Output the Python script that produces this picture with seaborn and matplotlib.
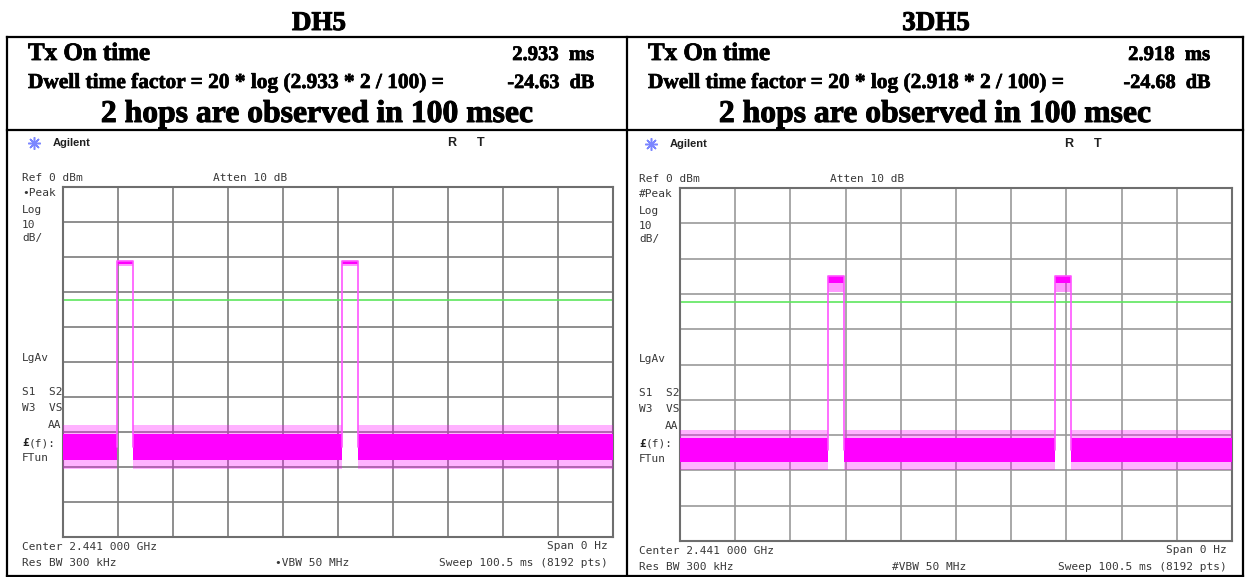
import numpy as np
import pandas as pd
import matplotlib
matplotlib.use("Agg")
import matplotlib.pyplot as plt
import matplotlib.patheffects as pe
import seaborn as sns

# ---------------- data ----------------
panel_titles = ["DH5", "3DH5"]
tx_on_time_ms = ["2.933", "2.918"]
dwell_factor_db = ["-24.63", "-24.68"]
hops_text = "2 hops are observed in 100 msec"

sweep_ms = 100.5
ref_level_dbm = 0
db_per_div = 10
n_div = 10

# DH5 trace (left)
dh5_pulse_start_ms = [9.92, 51.05]
dh5_pulse_end_ms = [12.85, 53.98]
dh5_top_core_dbm = [-21.0, -22.0]
dh5_top_spread_dbm = [-21.0, -22.5]
dh5_noise_core_dbm = [-70.5, -78.0]
dh5_noise_spread_dbm = [-68.0, -80.5]
dh5_threshold_dbm = -32.3

# 3DH5 trace (right)
tdh5_pulse_start_ms = [26.9, 68.3]
tdh5_pulse_end_ms = [29.82, 71.22]
tdh5_top_core_dbm = [-25.0, -27.0]
tdh5_top_spread_dbm = [-25.0, -29.5]
tdh5_noise_core_dbm = [-70.8, -77.5]
tdh5_noise_spread_dbm = [-68.5, -80.0]
tdh5_threshold_dbm = -32.2

detector_marks = ["\u2022", "#"]

# ---------------- figure ----------------
W, H, DPI = 1246, 577, 100
sns.set_theme(style="white")
plt.rcParams['font.family'] = ['DejaVu Sans']

fig = plt.figure(figsize=(W / DPI, H / DPI), dpi=DPI)
fig.patch.set_facecolor("white")
ov = fig.add_axes([0, 0, 1, 1])
ov.set_xlim(0, W)
ov.set_ylim(H, 0)
ov.axis("off")
renderer = fig.canvas.get_renderer()

SERIF = dict(family=["Liberation Serif", "DejaVu Serif"], weight="bold", color="black")
MONO = dict(family="DejaVu Sans Mono", fontsize=8, color="#383838")


def fit_text(x, y, s, width, ha="left", va="baseline", stroke=0.0, **kw):
    t = ov.text(x, y, s, fontsize=20, ha=ha, va=va, **kw)
    w = t.get_window_extent(renderer=renderer).width
    t.set_fontsize(20 * width / w)
    if stroke > 0:
        t.set_path_effects([pe.withStroke(linewidth=stroke, foreground="black")])
    return t


# table borders
tab_l, tab_m, tab_r = 7, 627, 1243
tab_t, tab_sep, tab_b = 37, 130, 576
for x in [tab_l, tab_m, tab_r]:
    ov.plot([x, x], [tab_t, tab_b], color="black", lw=1.6, solid_capstyle="projecting")
for y in [tab_t, tab_sep, tab_b]:
    ov.plot([tab_l, tab_r], [y, y], color="black", lw=1.6, solid_capstyle="projecting")

# headers
title_t = fit_text(319, 30, panel_titles[0], 54, ha="center", stroke=0.7, **SERIF)
title_fs = title_t.get_fontsize()
t2 = ov.text(936, 30, panel_titles[1], fontsize=title_fs, ha="center", va="baseline", **SERIF)
t2.set_path_effects([pe.withStroke(linewidth=0.7, foreground="black")])

col_left = [tab_l, tab_m]
col_right = [tab_m, tab_r]
col_center = [317, 935]
for c in range(2):
    a = col_left[c] + 21
    b = col_right[c] - 33
    fit_text(a, 60, "Tx On time", 122, stroke=0.6, **SERIF)
    fit_text(b, 60, f"{tx_on_time_ms[c]}  ms", 82, ha="right", stroke=0.55, **SERIF)
    fit_text(a, 88, f"Dwell time factor = 20 * log ({tx_on_time_ms[c]} * 2 / 100) =", 416,
             stroke=0.5, **SERIF)
    fit_text(b, 88, f"{dwell_factor_db[c]}  dB", 87, ha="right", stroke=0.5, **SERIF)
    fit_text(col_center[c], 122, hops_text, 432, ha="center", stroke=0.7, **SERIF)

# ---------------- analyzer panels ----------------
panels = [
    dict(box=(63, 187, 613, 537), starts=dh5_pulse_start_ms, ends=dh5_pulse_end_ms,
         top_core=dh5_top_core_dbm, top_spread=dh5_top_spread_dbm,
         core=dh5_noise_core_dbm, spread=dh5_noise_spread_dbm, thr=dh5_threshold_dbm,
         gridc="#7c7c7c", mark=detector_marks[0]),
    dict(box=(680, 188, 1232, 541), starts=tdh5_pulse_start_ms, ends=tdh5_pulse_end_ms,
         top_core=tdh5_top_core_dbm, top_spread=tdh5_top_spread_dbm,
         core=tdh5_noise_core_dbm, spread=tdh5_noise_spread_dbm, thr=tdh5_threshold_dbm,
         gridc="#9a9a9a", mark=detector_marks[1]),
]

MAG = "#ff00ff"
for p in panels:
    x0, y0, x1, y1 = p["box"]
    ax = fig.add_axes([x0 / W, 1 - y1 / H, (x1 - x0) / W, (y1 - y0) / H])
    ymin = ref_level_dbm - n_div * db_per_div
    ax.set_xlim(0, sweep_ms)
    ax.set_ylim(ymin, ref_level_dbm)
    ax.set_xticks(np.linspace(0, sweep_ms, n_div + 1))
    ax.set_yticks(np.arange(ymin, ref_level_dbm + 1, db_per_div))
    ax.grid(True, color=p["gridc"], lw=1.2)
    ax.set_axisbelow(True)
    ax.tick_params(length=0, labelbottom=False, labelleft=False)
    for s in ax.spines.values():
        s.set_color("#6e6e6e")
        s.set_linewidth(1.5)
    ax.set_facecolor("white")

    # threshold line
    ax.axhline(p["thr"], color="#5ee65e", lw=1.2, zorder=2)

    # noise segments between pulses
    seg_a = [0.0] + list(p["ends"])
    seg_b = list(p["starts"]) + [sweep_ms]
    for a, b in zip(seg_a, seg_b):
        ax.fill_between([a, b], p["spread"][0], p["spread"][1], color=MAG, alpha=0.3, lw=0, zorder=3)
        ax.fill_between([a, b], p["core"][0], p["core"][1], color=MAG, alpha=1.0, lw=0, zorder=3)

    # pulse outlines
    noise_mid = float(np.mean(p["core"]))
    rows = []
    for i, (s, e) in enumerate(zip(p["starts"], p["ends"])):
        for t, v in [(s, noise_mid), (s, p["top_core"][0]), (e, p["top_core"][0]), (e, noise_mid)]:
            rows.append(dict(pulse=i, t=t, dbm=v))
        ax.fill_between([s, e], p["top_spread"][0], p["top_spread"][1], color=MAG, alpha=0.4, lw=0, zorder=4)
        ax.fill_between([s, e], p["top_core"][0], p["top_core"][1], color=MAG, alpha=1.0, lw=0, zorder=4)
    df = pd.DataFrame(rows)
    sns.lineplot(data=df, x="t", y="dbm", units="pulse", estimator=None, sort=False,
                 color="#ff55ff", lw=1.2, ax=ax, zorder=4)
    ax.set_xlabel("")
    ax.set_ylabel("")

    # instrument annotations
    lx = x0 - 41
    ov.plot([x0 - 29], [y0 - 44], marker=(8, 2, 0), ms=9, mew=1.1, color="#7b86ff")
    ov.plot([x0 - 29], [y0 - 44], marker="o", ms=3, mew=0, color="#7b86ff")
    ov.text(x0 - 10, y0 - 44, "Agilent", family="Liberation Sans", weight="bold",
            fontsize=8, ha="left", va="center", color="#202020")
    ov.text(x0 + 384, y0 - 44, "R", family="Liberation Sans", weight="bold",
            fontsize=9, ha="left", va="center", color="#202020")
    ov.text(x0 + 414, y0 - 44, "T", family="Liberation Sans", weight="bold",
            fontsize=9, ha="left", va="center", color="#202020")
    ov.text(lx, y0 - 9, "Ref 0 dBm", ha="left", va="center", **MONO)
    ov.text(x0 + 150, y0 - 9, "Atten 10 dB", ha="left", va="center", **MONO)
    side = [(p["mark"] + "Peak", 6), ("Log", 23), ("10", 38), ("dB/", 51),
            ("LgAv", 171), ("S1  S2", 205), ("W3  VS", 221), ("FTun", 271)]
    for s, dy in side:
        ov.text(lx, y0 + dy, s, ha="left", va="center", **MONO)
    ov.text(x0 - 2, y0 + 238, "AA", ha="right", va="center", **MONO)
    ov.text(lx, y0 + 256, "\u00a3", ha="left", va="center", family="DejaVu Sans Mono",
            fontsize=8, weight="bold", color="#202020")
    ov.text(lx + 7, y0 + 256, "(f):", ha="left", va="center", **MONO)
    ov.text(lx, y1 + 10, "Center 2.441 000 GHz", ha="left", va="center", **MONO)
    ov.text(lx, y1 + 26, "Res BW 300 kHz", ha="left", va="center", **MONO)
    ov.text(x0 + 212, y1 + 26, p["mark"] + "VBW 50 MHz", ha="left", va="center", **MONO)
    ov.text(x1 - 5, y1 + 9, "Span 0 Hz", ha="right", va="center", **MONO)
    ov.text(x1 - 5, y1 + 26, "Sweep 100.5 ms (8192 pts)", ha="right", va="center", **MONO)

fig.savefig("out.png", dpi=DPI, facecolor="white")
